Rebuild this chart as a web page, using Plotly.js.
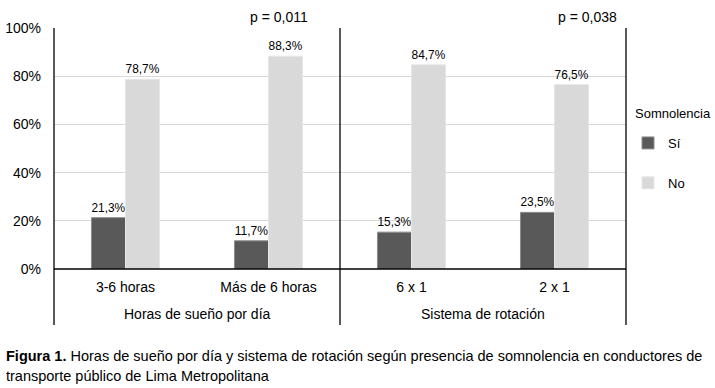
<!DOCTYPE html>
<html>
<head>
<meta charset="utf-8">
<script src="https://cdn.plot.ly/plotly-3.0.1.min.js"></script>
<style>
  html, body { margin: 0; padding: 0; background: #fff; }
  #chart { width: 715px; height: 388px; }
</style>
</head>
<body>
<div id="chart"></div>
<script>
// categories and values (share of drivers, 0-1)
var categories = ['3-6 horas', 'Más de 6 horas', '6 x 1', '2 x 1'];
var groupNames = ['Horas de sueño por día', 'Sistema de rotación'];
var valuesSi = [0.213, 0.117, 0.153, 0.235];
var valuesNo = [0.787, 0.883, 0.847, 0.765];
var pValues = ['p = 0,011', 'p = 0,038'];

var xs = categories.map(function (c, i) { return i; });
var font = 'Liberation Sans, Arial, sans-serif';

var traceSi = {
  x: xs,
  y: valuesSi,
  type: 'bar',
  name: 'Sí',
  legendgroup: 'si',
  marker: { color: '#595959', line: { color: '#8c8c8c', width: 1 } },
  texttemplate: '%{y:.1%}',
  textposition: 'outside',
  cliponaxis: false,
  textfont: { family: font, size: 12, color: '#000' }
};

var traceNo = {
  x: xs,
  y: valuesNo,
  type: 'bar',
  name: 'No',
  legendgroup: 'no',
  marker: { color: '#d9d9d9', line: { color: '#e6e6e6', width: 1 } },
  texttemplate: '%{y:.1%}',
  textposition: 'outside',
  cliponaxis: false,
  textfont: { family: font, size: 12, color: '#000' }
};

var data = [traceSi, traceNo];

// vertical separators extending below the axis
var lineBottom = -0.232;
var shapes = [0, 0.5, 1].map(function (xp) {
  return {
    type: 'line', xref: 'paper', yref: 'paper',
    x0: xp, x1: xp, y0: lineBottom, y1: 1,
    line: { color: '#000', width: 1.3 }
  };
});
shapes.push({
  type: 'line', xref: 'paper', yref: 'paper',
  x0: 0, x1: 1, y0: 0, y1: 0,
  line: { color: '#000', width: 1.3 }
});

var annotations = [
  { x: 0.5, y: -0.188, text: groupNames[0] },
  { x: 2.5, y: -0.188, text: groupNames[1] }
].map(function (a) {
  return {
    x: a.x, y: a.y, xref: 'x', yref: 'paper', text: a.text,
    showarrow: false, font: { family: font, size: 14, color: '#000' },
    xanchor: 'center', yanchor: 'middle'
  };
});

annotations.push({
  x: 1.073, y: 1.045, xref: 'x', yref: 'paper', text: pValues[0],
  showarrow: false, font: { family: font, size: 14, color: '#000' },
  xanchor: 'center', yanchor: 'middle'
});
annotations.push({
  x: 3.234, y: 1.045, xref: 'x', yref: 'paper', text: pValues[1],
  showarrow: false, font: { family: font, size: 14, color: '#000' },
  xanchor: 'center', yanchor: 'middle'
});

// legend title
annotations.push({
  x: 1.012, y: 0.647, xref: 'paper', yref: 'paper',
  text: 'Somnolencia', showarrow: false,
  font: { family: font, size: 13, color: '#000' },
  xanchor: 'left', yanchor: 'middle'
});

// caption
annotations.push({
  x: -0.087, y: -0.361, xref: 'paper', yref: 'paper',
  text: '<b>Figura 1.</b> Horas de sueño por día y sistema de rotación según presencia de somnolencia en conductores de',
  showarrow: false, font: { family: font, size: 14.5, color: '#000' },
  xanchor: 'left', yanchor: 'middle', align: 'left'
});
annotations.push({
  x: -0.087, y: -0.444, xref: 'paper', yref: 'paper',
  text: 'transporte público de Lima Metropolitana',
  showarrow: false, font: { family: font, size: 14.5, color: '#000' },
  xanchor: 'left', yanchor: 'middle', align: 'left'
});

var layout = {
  width: 715,
  height: 388,
  margin: { l: 54, r: 89, t: 28, b: 119 },
  paper_bgcolor: '#fff',
  plot_bgcolor: '#fff',
  separators: ',.',
  barmode: 'group',
  bargap: 0.524,
  bargroupgap: 0,
  font: { family: font, size: 13, color: '#000' },
  xaxis: {
    range: [-0.5, 3.5],
    tickvals: xs,
    ticktext: categories,
    showgrid: false,
    zeroline: false,
    showline: false,
    ticks: '',
    ticklabelstandoff: 8,
    tickfont: { family: font, size: 14, color: '#000' },
    fixedrange: true
  },
  yaxis: {
    range: [0, 1],
    tickvals: [0, 0.2, 0.4, 0.6, 0.8, 1],
    tickformat: '.0%',
    showgrid: true,
    gridcolor: '#d9d9d9',
    gridwidth: 1,
    zeroline: false,
    showline: false,
    ticks: '',
    ticklabelstandoff: 12,
    tickfont: { family: font, size: 14, color: '#000' },
    fixedrange: true
  },
  legend: {
    xref: 'container',
    yref: 'container',
    x: 628 / 715,
    xanchor: 'left',
    y: 1 - 128 / 388,
    yanchor: 'top',
    bgcolor: 'rgba(0,0,0,0)',
    font: { family: font, size: 13, color: '#000' },
    traceorder: 'grouped',
    tracegroupgap: 20
  },
  shapes: shapes,
  annotations: annotations,
  showlegend: true
};

Plotly.newPlot('chart', data, layout, { displayModeBar: false, staticPlot: true });
</script>
</body>
</html>
